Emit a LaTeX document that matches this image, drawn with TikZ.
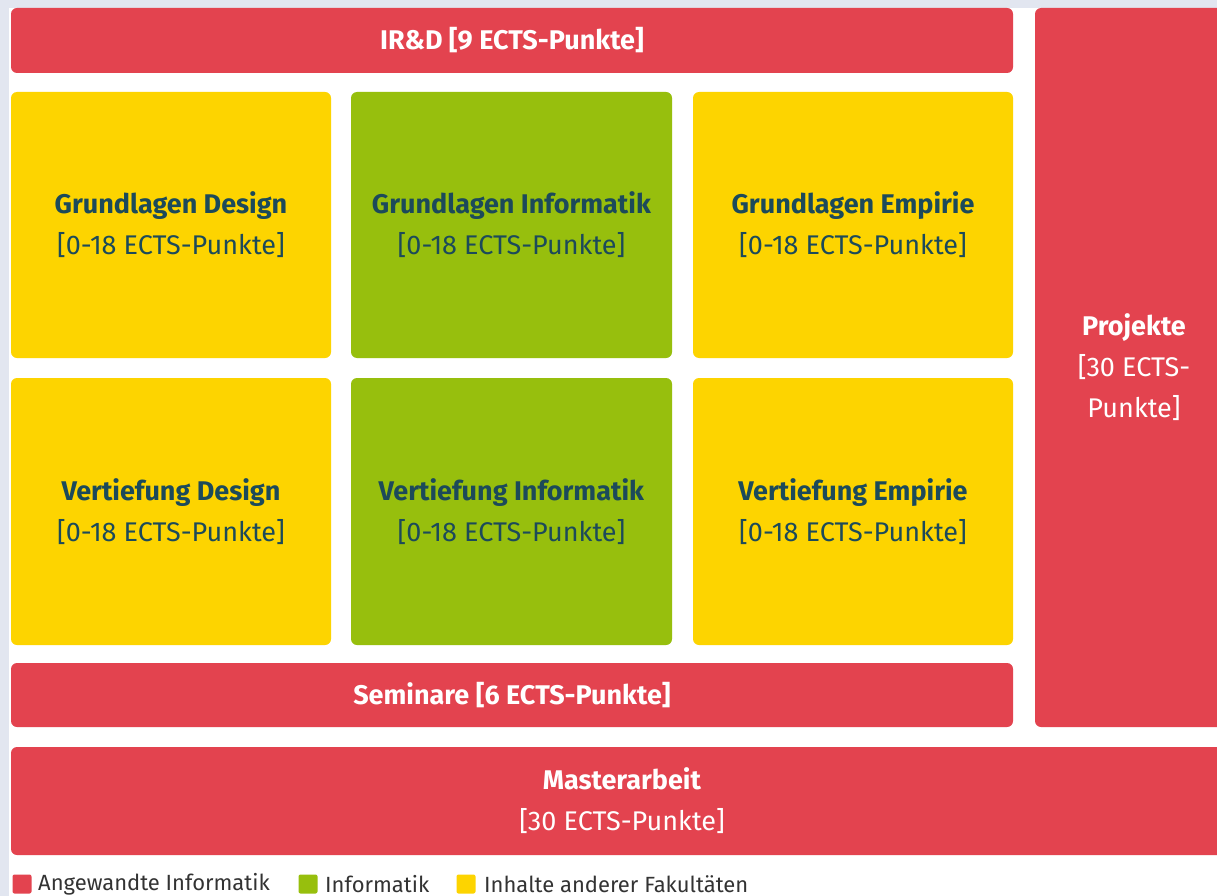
\documentclass[tikz,border=0pt]{standalone}
\usepackage{fontspec}
\setmainfont{Fira Sans}
\usetikzlibrary{positioning}
\definecolor{bgcol}{HTML}{E2E6F0}
\definecolor{aired}{HTML}{E3434F}
\definecolor{infgreen}{HTML}{97BF0D}
\definecolor{facyellow}{HTML}{FDD400}
\definecolor{boxtext}{HTML}{1C4A5A}
\definecolor{legtext}{HTML}{333333}
\tikzset{box/.style = {shape=rectangle,rounded corners=6pt,align=center,inner sep=0pt}}
\tikzset{redbox/.style = {box,fill=aired,text=white}}
\tikzset{yellowbox/.style = {box,fill=facyellow,text=boxtext}}
\tikzset{greenbox/.style = {box,fill=infgreen,text=boxtext}}
\tikzset{legbox/.style = {shape=rectangle,rounded corners=2pt,minimum size=19pt,inner sep=0pt}}
\tikzset{legtext/.style = {anchor=west,text=legtext,inner sep=0pt,font=\fontsize{22}{24}\selectfont}}
\newcommand{\boxfont}{\fontsize{27}{41}\selectfont}

\begin{document}
\begin{tikzpicture}[x=1pt,y=-1pt]
\useasboundingbox (0,0) rectangle (1217,896);
\fill[bgcol] (0,0) rectangle (1217,896);
\fill[white] (9,8) rectangle (1217,896);
% red bars
\node[redbox,minimum width=1002pt,minimum height=65pt,font=\boxfont] (ird) at (512,40.5) {\textbf{IR\&D [9 ECTS-Punkte]}};
\node[redbox,minimum width=1002pt,minimum height=64pt,font=\boxfont] (sem) at (512,695) {\textbf{Seminare [6 ECTS-Punkte]}};
\node[redbox,minimum width=198pt,minimum height=719pt,font=\boxfont] (proj) at (1134,367.5) {\textbf{Projekte}\\{}[30 ECTS-\\Punkte]};
\node[redbox,minimum width=1222pt,minimum height=108pt,font=\boxfont] (ma) at (622,801) {\textbf{Masterarbeit}\\{}[30 ECTS-Punkte]};

% modules
\node[yellowbox,minimum width=320pt,minimum height=266pt,font=\boxfont] (gd) at (171,225) {\textbf{Grundlagen Design}\\{}[0-18 ECTS-Punkte]};
\node[greenbox,minimum width=321pt,minimum height=266pt,font=\boxfont] (gi) at (511.5,225) {\textbf{Grundlagen Informatik}\\{}[0-18 ECTS-Punkte]};
\node[yellowbox,minimum width=320pt,minimum height=266pt,font=\boxfont] (ge) at (853,225) {\textbf{Grundlagen Empirie}\\{}[0-18 ECTS-Punkte]};
\node[yellowbox,minimum width=320pt,minimum height=267pt,font=\boxfont] (vd) at (171,511.5) {\textbf{Vertiefung Design}\\{}[0-18 ECTS-Punkte]};
\node[greenbox,minimum width=321pt,minimum height=267pt,font=\boxfont] (vi) at (511.5,511.5) {\textbf{Vertiefung Informatik}\\{}[0-18 ECTS-Punkte]};
\node[yellowbox,minimum width=320pt,minimum height=267pt,font=\boxfont] (ve) at (853,511.5) {\textbf{Vertiefung Empirie}\\{}[0-18 ECTS-Punkte]};

% legend
\node[legbox,fill=aired] (lr) at (22,884) {};
\node[legtext] (lrt) at (38,884) {Angewandte Informatik};
\node[legbox,fill=infgreen] (lg) at (308,884) {};
\node[legtext] (lgt) at (325,884) {Informatik};
\node[legbox,fill=facyellow] (ly) at (466,884) {};
\node[legtext] (lyt) at (484,884) {Inhalte anderer Fakultäten};
\end{tikzpicture}
\end{document}
